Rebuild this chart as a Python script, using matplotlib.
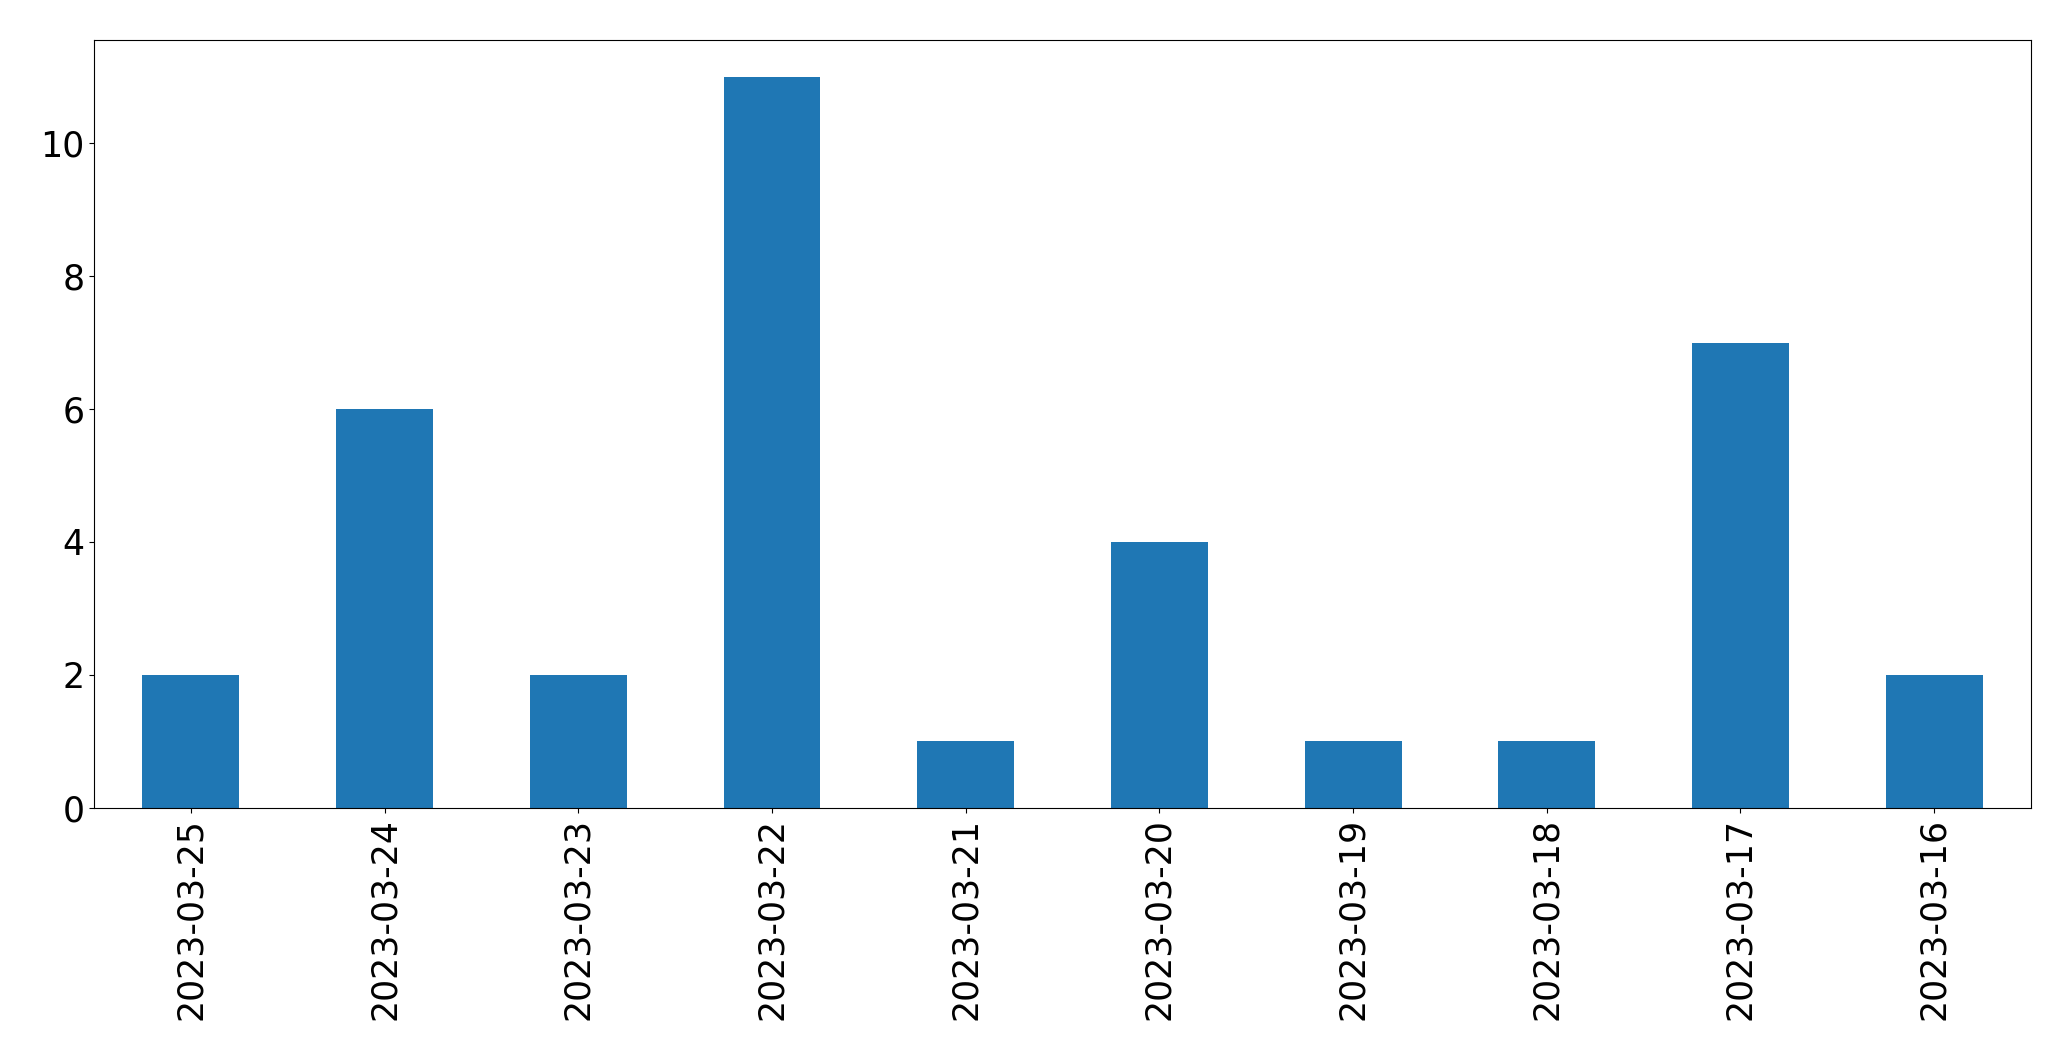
import matplotlib
matplotlib.use("Agg")
import matplotlib.pyplot as plt

dates = ["2023-03-25", "2023-03-24", "2023-03-23", "2023-03-22", "2023-03-21",
         "2023-03-20", "2023-03-19", "2023-03-18", "2023-03-17", "2023-03-16"]
counts = [2, 6, 2, 11, 1, 4, 1, 1, 7, 2]

fig = plt.figure(figsize=(20.71, 10.61), dpi=100)
ax = fig.add_axes([0.0454, 0.2385, 0.9353, 0.7238])
x = range(len(dates))
ax.bar(x, counts, width=0.5, color="#1f77b4")
ax.set_xticks(list(x))
ax.set_xticklabels(dates, rotation=90)
ax.set_xlim(-0.5, len(dates) - 0.5)
ax.tick_params(axis="both", labelsize=25)
fig.savefig("out.png", dpi=100)
